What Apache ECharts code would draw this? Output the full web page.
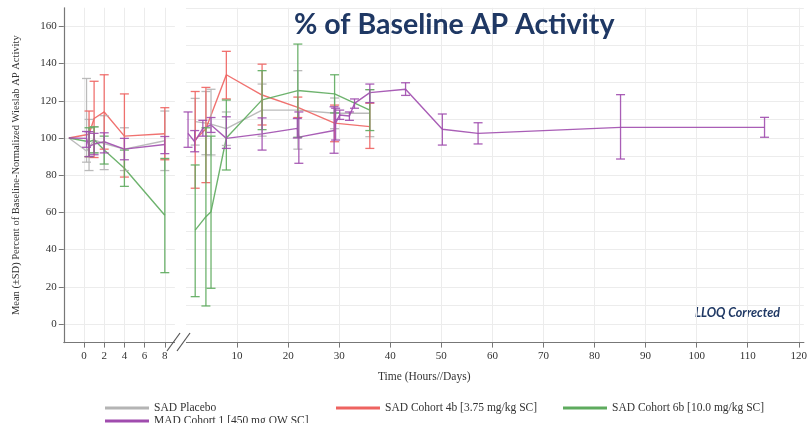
<!DOCTYPE html>
<html>
<head>
<meta charset="utf-8">
<script src="https://cdn.jsdelivr.net/npm/echarts@6/dist/echarts.min.js"></script>
<style>
html, body { margin: 0; padding: 0; background: #fff; }
#main { width: 810px; height: 423px; }
</style>
</head>
<body>
<div id="main"></div>
<script>
// 系列名称和颜色
const names = ['SAD Placebo', 'SAD Cohort 4b [3.75 mg/kg SC]', 'SAD Cohort 6b [10.0 mg/kg SC]', 'MAD Cohort 1 [450 mg QW SC]'];
const colors = ['#b4b4b4', '#ee6360', '#5eab5e', '#a04cae'];

// 刻度标签
const hourTicks = [0, 2, 4, 6, 8];
const dayTicks = [10, 20, 30, 40, 50, 60, 70, 80, 90, 100, 110, 120];
const yTicks = [0, 20, 40, 60, 80, 100, 120, 140, 160];

// 左侧: 小时
const placeboHr = [-1.5, 0.25, 0.5, 1, 2, 4, 8];
const placeboHrMean = [100, 93, 95, 99, 97, 94, 98.5];
const placeboHrLow = [null, 87, 82.5, 92, 83, 82.5, 82.5];
const placeboHrHigh = [null, 132, 110, 106, 112, 105.5, 114.5];

const c4bHr = [-1.5, 0.5, 1, 2, 4, 8];
const c4bHrMean = [100, 102, 110.5, 114, 101, 102.3];
const c4bHrLow = [null, 90, 89.5, 94, 79, 88.3];
const c4bHrHigh = [null, 114.5, 130.5, 134, 123.7, 116.3];

const c6bHr = [-1.5, 0.5, 1, 2, 4, 8];
const c6bHrMean = [100, 98, 99, 93.5, 83.7, 58.5];
const c6bHrLow = [null, 90, 92, 86, 74, 27.6];
const c6bHrHigh = [null, 105.5, 106, 101, 93.5, 89];

const madHr = [-1.5, 0.25, 0.5, 1, 2, 4, 8];
const madHrMean = [100, 99.8, 95.3, 96.8, 98, 94, 96.5];
const madHrLow = [null, 95, 90, 91, 92, 88.3, 91.6];
const madHrHigh = [null, 103.5, 103.4, 102.5, 102.8, 99.8, 100.8];

// 右侧: 天
const placeboDay = [1.8, 3.9, 4.9, 7.9, 14.9, 21.9, 29.1, 36.0];
const placeboDayMean = [108.8, 108, 107.5, 105, 115, 115, 113.3, 113.3];
const placeboDayLow = [96.2, 91, 90.9, 96, 101, 94, 105, 100.7];
const placeboDayHigh = [121.3, 125, 126.2, 114, 129, 136.2, 121.5, 126];

const c4bDay = [1.8, 3.9, 7.9, 14.9, 21.9, 29.1, 36.0];
const c4bDayMean = [99, 105, 134, 123.1, 116.5, 108, 106.1];
const c4bDayLow = [73, 76, 121, 107, 111, 98, 94.4];
const c4bDayHigh = [125, 127.2, 146.6, 139.7, 122, 117.7, 118.7];

const c6bDay = [1.8, 3.9, 4.9, 7.9, 14.9, 21.9, 29.1, 36.0];
const c6bDayMean = [50.5, 57.7, 60.4, 100, 120.5, 125.5, 123.7, 115];
const c6bDayLow = [14.7, 9.7, 19.2, 82.8, 104.5, 100.4, 113.5, 104];
const c6bDayHigh = [85.5, 105.5, 101, 120.4, 136.2, 150.5, 134, 126];

const madDay = [0.4, 1.7, 3.3, 4.9, 7.9, 14.9, 21.8, 22.1, 29.0, 29.3, 30.1, 32.0, 33.0, 36.0, 43.0, 50.2, 57.2, 85.1, 113.3];
const madDayMean = [102.5, 98, 105.2, 107, 99.8, 102.2, 105.2, 100.5, 104, 108, 112.4, 111.8, 118.6, 124.4, 126.2, 104.7, 102.5, 105.7, 105.7];
const madDayLow = [95, 92.6, 101, 103, 94.4, 93.5, 100, 86.4, 91.8, 98.9, 110, 109.5, 116, 119, 122.9, 96.2, 96.8, 88.7, 100.4];
const madDayHigh = [114, 104, 109.5, 111, 111.4, 110.8, 110.5, 114, 116.8, 116, 115, 114, 121, 129, 129.7, 112.9, 108.2, 123.3, 111.1];

const serif = 'Liberation Serif';

// 误差线
function errRender(params, api) {
    var x = api.value(0);
    var p1 = api.coord([x, api.value(1)]);
    var p2 = api.coord([x, api.value(2)]);
    var w = 4.5;
    var style = { stroke: api.visual('color'), lineWidth: 1.3, opacity: 0.9 };
    return {
        type: 'group',
        children: [
            { type: 'line', shape: { x1: p1[0], y1: p1[1], x2: p2[0], y2: p2[1] }, style: style },
            { type: 'line', shape: { x1: p1[0] - w, y1: p1[1], x2: p1[0] + w, y2: p1[1] }, style: style },
            { type: 'line', shape: { x1: p2[0] - w, y1: p2[1], x2: p2[0] + w, y2: p2[1] }, style: style }
        ]
    };
}

function lineSeries(idx, axis, xs, mean) {
    return {
        name: names[idx],
        type: 'line',
        xAxisIndex: axis,
        yAxisIndex: axis,
        data: xs.map(function (x, i) { return [x, mean[i]]; }),
        symbol: 'none',
        itemStyle: { color: colors[idx] },
        lineStyle: { color: colors[idx], width: 1.4, opacity: 0.9 },
        z: 3
    };
}

function errSeries(idx, axis, xs, low, high) {
    var data = [];
    xs.forEach(function (x, i) {
        if (low[i] != null) data.push([x, low[i], high[i]]);
    });
    return {
        name: names[idx],
        type: 'custom',
        xAxisIndex: axis,
        yAxisIndex: axis,
        renderItem: errRender,
        itemStyle: { color: colors[idx] },
        encode: { x: 0, y: [1, 2] },
        data: data,
        z: 4
    };
}

var series = [
    lineSeries(0, 0, placeboHr, placeboHrMean),
    lineSeries(1, 0, c4bHr, c4bHrMean),
    lineSeries(2, 0, c6bHr, c6bHrMean),
    lineSeries(3, 0, madHr, madHrMean),
    lineSeries(0, 1, placeboDay, placeboDayMean),
    lineSeries(1, 1, c4bDay, c4bDayMean),
    lineSeries(2, 1, c6bDay, c6bDayMean),
    lineSeries(3, 1, madDay, madDayMean),
    errSeries(0, 0, placeboHr, placeboHrLow, placeboHrHigh),
    errSeries(1, 0, c4bHr, c4bHrLow, c4bHrHigh),
    errSeries(2, 0, c6bHr, c6bHrLow, c6bHrHigh),
    errSeries(3, 0, madHr, madHrLow, madHrHigh),
    errSeries(0, 1, placeboDay, placeboDayLow, placeboDayHigh),
    errSeries(1, 1, c4bDay, c4bDayLow, c4bDayHigh),
    errSeries(2, 1, c6bDay, c6bDayLow, c6bDayHigh),
    errSeries(3, 1, madDay, madDayLow, madDayHigh)
];

var axisColor = '#777';
var gridColor = '#ececec';
var labelStyle = { fontFamily: serif, fontSize: 11, color: '#333' };

function legendAt(idx, left, top) {
    return {
        left: left,
        top: top,
        selectedMode: false,
        itemWidth: 44,
        itemHeight: 3,
        itemGap: 6,
        textStyle: { fontFamily: serif, fontSize: 11.5, color: '#333' },
        data: [{ name: names[idx], icon: 'rect', itemStyle: { color: colors[idx] } }]
    };
}

var dom = document.getElementById('main');
var myChart = echarts.init(dom);
var option = {
    animation: false,
    backgroundColor: '#fff',
    title: {
        text: '% of Baseline AP Activity',
        left: 289,
        top: 5,
        textStyle: { fontFamily: 'Lato', fontWeight: 'bold', fontSize: 28.5, color: '#1f3864' }
    },
    legend: [
        legendAt(0, 100, 397),
        legendAt(1, 331, 397),
        legendAt(2, 558, 397),
        legendAt(3, 100, 410)
    ],
    grid: [
        { left: 63.8, top: 7.8, width: 111.1, height: 334.8 },
        { left: 186, top: 7.8, width: 618.3, height: 334.8 }
    ],
    xAxis: [
        {
            type: 'value', gridIndex: 0, min: -2, max: 9, interval: 1,
            axisLine: { show: true, onZero: false, lineStyle: { color: axisColor, width: 1.2 } },
            axisTick: { show: true, customValues: hourTicks, length: 5, lineStyle: { color: axisColor } },
            axisLabel: { customValues: hourTicks, margin: 8, ...labelStyle },
            splitLine: { show: true, lineStyle: { color: gridColor } }
        },
        {
            type: 'value', gridIndex: 1, min: 0, max: 121, interval: 5,
            axisLine: { show: true, onZero: false, lineStyle: { color: axisColor, width: 1.2 } },
            axisTick: { show: true, customValues: dayTicks, length: 5, lineStyle: { color: axisColor } },
            axisLabel: { customValues: dayTicks, margin: 8, ...labelStyle },
            splitLine: { show: true, lineStyle: { color: gridColor } }
        }
    ],
    yAxis: [
        {
            type: 'value', gridIndex: 0, min: -10, max: 170, interval: 10,
            name: 'Mean (\u00b1SD) Percent of Baseline-Normalized Wieslab AP Activity',
            nameLocation: 'middle',
            nameGap: 42,
            nameTextStyle: { fontFamily: serif, fontSize: 10.5, color: '#333' },
            axisLine: { show: true, onZero: false, lineStyle: { color: axisColor, width: 1.2 } },
            axisTick: { show: true, customValues: yTicks, length: 5, lineStyle: { color: axisColor } },
            axisLabel: { customValues: yTicks, margin: 7, ...labelStyle },
            splitLine: { show: true, lineStyle: { color: gridColor } }
        },
        {
            type: 'value', gridIndex: 1, min: -10, max: 170, interval: 10,
            axisLine: { show: false, onZero: false },
            axisTick: { show: false },
            axisLabel: { show: false },
            splitLine: { show: true, lineStyle: { color: gridColor } }
        }
    ],
    graphic: [
        // 坐标轴断开标记
        { type: 'rect', shape: { x: 175, y: 338, width: 11, height: 8 }, style: { fill: '#fff' }, z: 50 },
        { type: 'line', shape: { x1: 167, y1: 351, x2: 180, y2: 333 }, style: { stroke: '#555', lineWidth: 1.2 }, z: 51 },
        { type: 'line', shape: { x1: 177, y1: 351, x2: 190, y2: 333 }, style: { stroke: '#555', lineWidth: 1.2 }, z: 51 },
        {
            type: 'text', left: 378, top: 371,
            style: { text: 'Time (Hours//Days)', font: '11.5px "Liberation Serif"', fill: '#333' }
        },
        {
            type: 'text', left: 695, top: 306,
            style: { text: 'LLOQ Corrected', font: 'italic bold 12.5px Lato', fill: '#1f3864' }
        }
    ],
    series: series
};

if (option && typeof option === 'object') {
    myChart.setOption(option, true);
}
</script>
</body>
</html>
